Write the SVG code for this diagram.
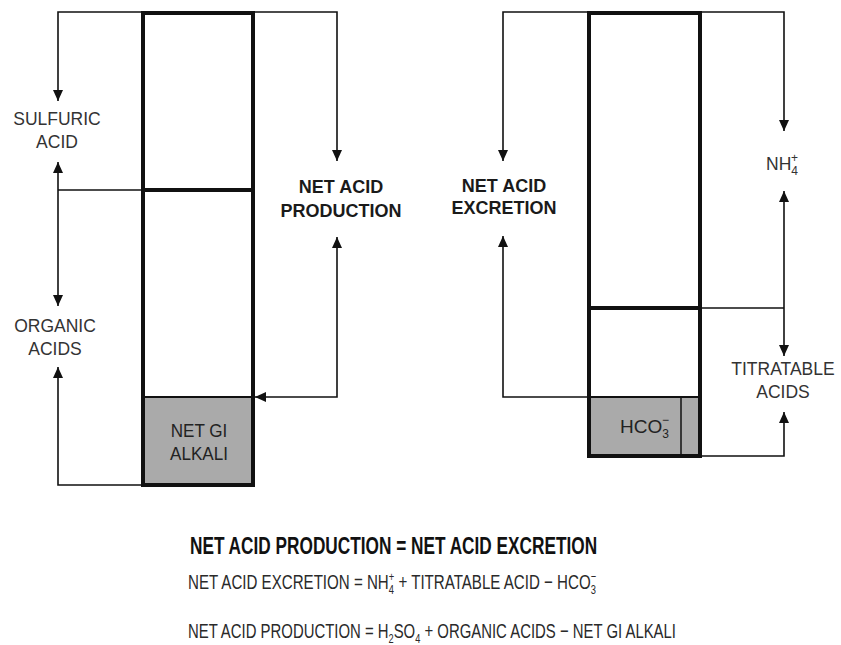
<svg xmlns="http://www.w3.org/2000/svg" width="841" height="645" viewBox="0 0 841 645">
<style>
.box{fill:none;stroke:#111;stroke-width:4}
.grey{fill:#aaaaaa;stroke:none}
.div{stroke:#111;stroke-width:4}
.thin{stroke:#111;stroke-width:2}
.conn{fill:none;stroke:#111;stroke-width:1.6}
.lab{font-family:"Liberation Sans",Arial,sans-serif;font-size:17.5px;fill:#333;text-anchor:middle}
.blab{font-family:"Liberation Sans",Arial,sans-serif;font-size:18px;font-weight:bold;fill:#1a1a1a;text-anchor:middle}
.eq{font-family:"Liberation Sans",Arial,sans-serif;font-size:20px;fill:#2a2a2a}
.eqb{font-family:"Liberation Sans",Arial,sans-serif;font-size:23px;font-weight:bold;fill:#111}
</style>
<defs>
<marker id="ah" markerUnits="userSpaceOnUse" markerWidth="12" markerHeight="10" refX="11" refY="5" orient="auto-start-reverse">
<path d="M0,0 L11,5 L0,10 Z" fill="#111"/>
</marker>
</defs>
<rect width="841" height="645" fill="#fff"/>

<g id="left-column">
<rect class="grey" x="143" y="397" width="110" height="88"/>
<line class="div" x1="143" y1="190" x2="253" y2="190"/>
<line class="thin" x1="143" y1="397" x2="253" y2="397"/>
<rect class="box" x="143" y="13" width="110" height="472"/>
<g transform="translate(199,0) scale(0.9,1)">
<text class="lab" x="0" y="437" style="font-size:19px;fill:#222">NET GI</text>
<text class="lab" x="0" y="460" style="font-size:19px;fill:#222">ALKALI</text>
</g>
</g>

<g id="right-column">
<rect class="grey" x="589" y="397" width="111" height="59"/>
<line class="thin" x1="681" y1="397" x2="681" y2="456" style="stroke-width:1.5"/>
<line class="div" x1="589" y1="308" x2="700" y2="308"/>
<line class="thin" x1="589" y1="397" x2="700" y2="397"/>
<rect class="box" x="589" y="13" width="111" height="443"/>
<text class="lab" x="620" y="433" style="text-anchor:start;font-size:19px;fill:#222">HCO<tspan dy="5" font-size="12">3</tspan><tspan dx="-7" dy="-14" font-size="12">−</tspan></text>
</g>

<g id="connectors">
<path class="conn" d="M143,12 H58 V101" marker-end="url(#ah)"/>
<path class="conn" d="M58,162 V306" marker-start="url(#ah)" marker-end="url(#ah)"/>
<path class="conn" d="M58,190 H143"/>
<path class="conn" d="M143,485 H58 V367" marker-end="url(#ah)"/>
<path class="conn" d="M253,12 H337 V161" marker-end="url(#ah)"/>
<path class="conn" d="M337,237 V397 H255" marker-start="url(#ah)" marker-end="url(#ah)"/>
<path class="conn" d="M589,12 H503 V161" marker-end="url(#ah)"/>
<path class="conn" d="M589,397 H503 V236" marker-end="url(#ah)"/>
<path class="conn" d="M700,12 H784 V131" marker-end="url(#ah)"/>
<path class="conn" d="M784,191 V356" marker-start="url(#ah)" marker-end="url(#ah)"/>
<path class="conn" d="M700,308 H784"/>
<path class="conn" d="M700,456 H784 V412" marker-end="url(#ah)"/>
</g>

<g id="label-sulfuric"><text class="lab" x="57" y="125">SULFURIC</text><text class="lab" x="57" y="148">ACID</text></g>
<g id="label-organic"><text class="lab" x="55" y="332">ORGANIC</text><text class="lab" x="55" y="355">ACIDS</text></g>
<g id="label-nap"><text class="blab" x="341" y="193">NET ACID</text><text class="blab" x="341" y="217">PRODUCTION</text></g>
<g id="label-nae"><text class="blab" x="504" y="192">NET ACID</text><text class="blab" x="504" y="214">EXCRETION</text></g>
<g id="label-nh4"><text class="lab" x="766" y="170" style="text-anchor:start">NH<tspan dy="5" font-size="12">4</tspan><tspan dx="-7" dy="-13" font-size="12">+</tspan></text></g>
<g id="label-titratable"><text class="lab" x="783" y="375">TITRATABLE</text><text class="lab" x="783" y="398">ACIDS</text></g>

<g id="formulas">
<g transform="translate(190,554) scale(0.75,1)"><text class="eqb" x="0" y="0">NET ACID PRODUCTION = NET ACID EXCRETION</text></g>
<g transform="translate(188,589) scale(0.72,1)"><text class="eq" x="0" y="0" style="font-size:21px">NET ACID EXCRETION = NH<tspan dy="5" font-size="13">4</tspan><tspan dx="-7.2" dy="-13" font-size="13">+</tspan><tspan dy="8"> + TITRATABLE ACID − HCO</tspan><tspan dy="5" font-size="13">3</tspan><tspan dx="-7.2" dy="-13" font-size="13">−</tspan></text></g>
<g transform="translate(188,638) scale(0.71,1)"><text class="eq" x="0" y="0" style="font-size:21px">NET ACID PRODUCTION = H<tspan dy="5" font-size="13">2</tspan><tspan dy="-5">SO</tspan><tspan dy="5" font-size="13">4</tspan><tspan dy="-5"> + ORGANIC ACIDS − NET GI ALKALI</tspan></text></g>
</g>
</svg>
